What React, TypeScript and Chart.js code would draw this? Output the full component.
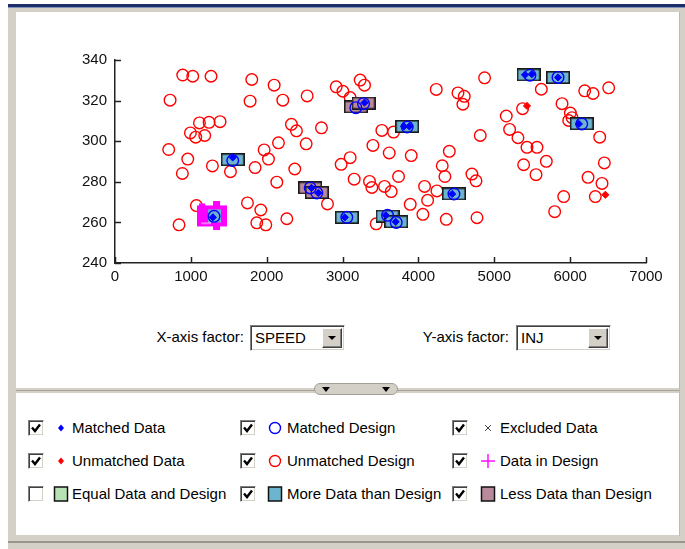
import React, { useEffect, useRef } from "react";
import { Chart, registerables } from "chart.js";
Chart.register(...registerables);

const FONT = '"Liberation Sans", Arial, Helvetica, sans-serif';

const xTickValues = [0, 1000, 2000, 3000, 4000, 5000, 6000, 7000];
const yTickValues = [240, 260, 280, 300, 320, 340];

// Unmatched design points (red circles)
const unmatchedDesign: [number, number][] = [
  [893, 332.6], [1025, 332], [1266, 332], [726, 320.2], [1803, 330.4], [1781, 319.7],
  [2098, 327.6], [2212, 320.2], [2533, 322.3], [2916, 326.8], [3004, 324.6], [3100, 321.5],
  [994, 304.1], [1113, 309], [1064, 302], [1183, 302.8], [1240, 309.3], [1385, 309.6],
  [708, 295.9], [959, 291.2], [888, 284.1], [1284, 287.8], [1522, 285], [1966, 295.7],
  [2023, 291.2], [2155, 299.2], [2326, 308.3], [2392, 305.1], [2722, 306.6], [2520, 298.7],
  [1847, 287], [2370, 286.3], [2133, 279.8], [2981, 288.6], [3100, 291.9], [3153, 281.3],
  [1073, 268.3], [844, 258.8], [1746, 269.6], [1922, 266.1], [1869, 259.8], [1988, 258.8],
  [2265, 261.8], [2801, 269.1],
  [3232, 330.1], [3289, 327.6], [4235, 325.5], [4521, 323.8], [4604, 322.1], [4586, 318.2],
  [4872, 331.2], [3518, 305.3], [3672, 304.5], [3400, 297.9], [3615, 294.2], [3905, 292.9],
  [3355, 280.2], [3386, 277.2], [3553, 277.7], [3641, 275.2], [3738, 282.6], [4407, 295],
  [4314, 287.9], [4349, 282.6], [4081, 277.7], [4244, 275.5], [4121, 270.9], [3892, 268.9],
  [4059, 264], [4367, 261.5], [4772, 262.3], [3443, 259.3], [4705, 283.8], [4759, 280.5],
  [4815, 302.8], [5620, 325.6], [5373, 316], [5158, 312.4], [5202, 305.8], [5312, 301.7],
  [5431, 297], [5563, 297], [5686, 290.1], [5387, 288.4], [5550, 283.5], [5893, 318.5],
  [6003, 313.9], [6025, 311.6], [5981, 310.2], [6192, 324.8], [6302, 323.5], [6508, 326.3],
  [6390, 302], [6451, 289.3], [6236, 282.2], [6420, 279.2], [6332, 272.7], [5915, 272.7],
  [5796, 265.3],
];

// Cells with more data than design (cyan boxes)
const moreDataCells: [number, number][] = [
  [1552, 290.9], [3056, 262.5], [3593, 263.1], [3707, 260.3], [3852, 307.3],
  [4468, 274], [5453, 332.7], [5840, 331.4], [6153, 308.6],
];

// Cells with less data than design (mauve boxes)
const lessDataCells: [number, number][] = [
  [2573, 277], [2661, 274.7], [3175, 316.9], [3276, 318.8],
];

// Matched design points (blue circles)
const matchedDesign: [number, number][] = [
  [1552, 290.5], [3056, 262.5], [3593, 263.5], [3707, 260], [3852, 307], [4468, 274],
  [5470, 332.5], [5840, 331.4], [6153, 308.5], [2573, 277], [2661, 274.5],
  [3175, 316.5], [3276, 318.5], [1306, 263],
];

// Matched data points (blue diamonds)
const matchedData: [number, number][] = [
  [5405, 332.7], [5495, 333], [5840, 331.4], [6115, 308.5], [3810, 307.3], [3880, 307.3],
  [4445, 274], [3030, 262.5], [3570, 263.5], [3700, 260.3], [1552, 292], [2590, 277],
  [2680, 274.5], [3290, 319], [1290, 262.5],
];

// Unmatched data points (red diamonds)
const unmatchedData: [number, number][] = [
  [5431, 317.4], [6464, 273.6],
];

// Data in design (magenta)
const dataInDesign: [number, number][] = [
  [1279, 263.2],
];

const xFactors = ["SPEED"];
const yFactors = ["INJ"];

const legendRows: { label: string; checked: boolean; marker: string }[][] = [
  [
    { label: "Matched Data", checked: true, marker: "blueDiamond" },
    { label: "Matched Design", checked: true, marker: "blueCircle" },
    { label: "Excluded Data", checked: true, marker: "cross" },
  ],
  [
    { label: "Unmatched Data", checked: true, marker: "redDiamond" },
    { label: "Unmatched Design", checked: true, marker: "redCircle" },
    { label: "Data in Design", checked: true, marker: "plus" },
  ],
  [
    { label: "Equal Data and Design", checked: false, marker: "green" },
    { label: "More Data than Design", checked: true, marker: "cyan" },
    { label: "Less Data than Design", checked: true, marker: "mauve" },
  ],
];

const CYAN = "#6db5cf";
const MAUVE = "#b88a9c";
const GREEN = "#b9e2b4";
const GRAY = "#d4d0c8";

function toPts(a: [number, number][]) {
  return a.map(([x, y]) => ({ x, y }));
}

function boxCanvas(fill: string, w = 24, h = 13) {
  const c = document.createElement("canvas");
  c.width = w;
  c.height = h;
  const g = c.getContext("2d")!;
  g.fillStyle = fill;
  g.fillRect(0, 0, w, h);
  g.strokeStyle = "#1a1a1a";
  g.lineWidth = 1.6;
  g.strokeRect(0.8, 0.8, w - 1.6, h - 1.6);
  return c;
}

function magentaCanvas() {
  const c = document.createElement("canvas");
  c.width = 30;
  c.height = 29;
  const g = c.getContext("2d")!;
  g.fillStyle = "#ff00ff";
  g.fillRect(0, 4, 30, 21);
  g.fillRect(16, 0, 7, 5);
  g.fillRect(16, 24, 7, 5);
  g.fillRect(2, 2, 6, 3);
  g.fillStyle = "#ff9cff";
  g.fillRect(4, 21, 10, 1.5);
  g.fillStyle = CYAN;
  g.fillRect(11, 8, 13, 13);
  return c;
}

const inTicks = {
  id: "inTicks",
  afterDatasetsDraw(chart: any) {
    const { ctx, chartArea } = chart;
    const xs = chart.scales.x;
    const ys = chart.scales.y;
    ctx.save();
    ctx.strokeStyle = "#222";
    ctx.lineWidth = 1.5;
    xs.ticks.forEach((t: any) => {
      const p = Math.round(xs.getPixelForValue(t.value)) + 0.5;
      ctx.beginPath();
      ctx.moveTo(p, chartArea.bottom);
      ctx.lineTo(p, chartArea.bottom - 6);
      ctx.stroke();
    });
    ys.ticks.forEach((t: any) => {
      const p = Math.round(ys.getPixelForValue(t.value)) + 0.5;
      ctx.beginPath();
      ctx.moveTo(chartArea.left, p);
      ctx.lineTo(chartArea.left + 6, p);
      ctx.stroke();
    });
    ctx.restore();
  },
};

function Plot() {
  const ref = useRef<HTMLCanvasElement>(null);
  useEffect(() => {
    const cyanBox = boxCanvas(CYAN);
    const mauveBox = boxCanvas(MAUVE);
    const mag = magentaCanvas();
    const base = { showLine: false, borderWidth: 1.4 };
    const chart = new Chart(ref.current!, {
      type: "scatter",
      data: {
        datasets: [
          {
            ...base, label: "Matched Data", data: toPts(matchedData), pointStyle: "rectRot",
            pointRadius: 3.6, backgroundColor: "#0000ff", borderColor: "#0000ff", borderWidth: 1,
          },
          {
            ...base, label: "Unmatched Data", data: toPts(unmatchedData), pointStyle: "rectRot",
            pointRadius: 3.6, backgroundColor: "#ff0000", borderColor: "#ff0000", borderWidth: 1,
          },
          {
            ...base, label: "Matched Design", data: toPts(matchedDesign), pointStyle: "circle",
            pointRadius: 5.8, backgroundColor: "rgba(0,0,0,0)", borderColor: "#0000ff",
          },
          {
            ...base, label: "Data in Design", data: toPts(dataInDesign), pointStyle: mag as any,
            pointRadius: 3,
          },
          {
            ...base, label: "More Data than Design", data: toPts(moreDataCells), pointStyle: cyanBox as any,
            pointRadius: 3,
          },
          {
            ...base, label: "Less Data than Design", data: toPts(lessDataCells), pointStyle: mauveBox as any,
            pointRadius: 3,
          },
          {
            ...base, label: "Unmatched Design", data: toPts(unmatchedDesign), pointStyle: "circle",
            pointRadius: 5.8, backgroundColor: "rgba(0,0,0,0)", borderColor: "#ff0000",
          },
        ],
      },
      options: {
        animation: false,
        responsive: false,
        events: [],
        layout: { padding: { left: 0, top: 60, right: 39, bottom: 0 } },
        plugins: { legend: { display: false }, tooltip: { enabled: false } },
        scales: {
          x: {
            type: "linear",
            min: xTickValues[0],
            max: xTickValues[xTickValues.length - 1],
            afterFit: (s: any) => { s.height = 57; },
            afterBuildTicks: (s: any) => { s.ticks = xTickValues.map((v) => ({ value: v })); },
            grid: { display: false, drawTicks: false },
            border: { display: true, color: "#222", width: 1.5 },
            ticks: {
              color: "#111", font: { family: FONT, size: 15 }, padding: 5, maxRotation: 0, autoSkip: false,
              callback: (v: any) => String(v),
            },
          },
          y: {
            type: "linear",
            min: yTickValues[0],
            max: yTickValues[yTickValues.length - 1],
            afterFit: (s: any) => { s.width = 115; },
            afterBuildTicks: (s: any) => { s.ticks = yTickValues.map((v) => ({ value: v })); },
            grid: { display: false, drawTicks: false },
            border: { display: true, color: "#222", width: 1.5 },
            ticks: { color: "#111", font: { family: FONT, size: 15 }, padding: 8, callback: (v: any) => String(v) },
          },
        },
      },
      plugins: [inTicks],
    });
    return () => chart.destroy();
  }, []);
  return (
    <canvas
      ref={ref}
      width={685}
      height={320}
      style={{ position: "absolute", left: 0, top: 0, width: 685, height: 320 }}
    />
  );
}

function Dropdown({ left, top, value }: { left: number; top: number; value: string }) {
  return (
    <div
      style={{
        position: "absolute", left, top, width: 95, height: 26, boxSizing: "border-box",
        borderTop: "1px solid #808080", borderLeft: "1px solid #808080",
        borderRight: "1px solid #fff", borderBottom: "1px solid #fff",
        boxShadow: "inset 1px 1px #404040, inset -1px -1px " + GRAY, background: "#fff",
      }}
    >
      <span style={{ position: "absolute", left: 4, top: 4, fontSize: 15, lineHeight: "16px", color: "#000" }}>
        {value}
      </span>
      <div
        style={{
          position: "absolute", right: 2, top: 2, width: 20, height: 20, boxSizing: "border-box",
          background: GRAY, borderTop: "1px solid #fff", borderLeft: "1px solid #fff",
          borderRight: "1px solid #404040", borderBottom: "1px solid #404040",
          boxShadow: "inset -1px -1px #808080",
        }}
      >
        <div
          style={{
            position: "absolute", left: 5, top: 7, width: 0, height: 0,
            borderLeft: "4px solid transparent", borderRight: "4px solid transparent",
            borderTop: "4px solid #000",
          }}
        />
      </div>
    </div>
  );
}

function CheckBox({ left, top, checked }: { left: number; top: number; checked: boolean }) {
  return (
    <div
      style={{
        position: "absolute", left, top, width: 16, height: 16, boxSizing: "border-box",
        borderTop: "1px solid #808080", borderLeft: "1px solid #808080",
        borderRight: "1px solid #fff", borderBottom: "1px solid #fff",
        boxShadow: "inset 1px 1px #404040, inset -1px -1px " + GRAY, background: "#fff",
      }}
    >
      {checked && (
        <svg width={14} height={14} style={{ position: "absolute", left: 0, top: 0 }}>
          <polyline points="3,6.5 6,10 11,3.5" fill="none" stroke="#000" strokeWidth={2.4} />
        </svg>
      )}
    </div>
  );
}

function Marker({ kind, cx, cy }: { kind: string; cx: number; cy: number }) {
  const s = 18;
  const l = cx - s / 2;
  const t = cy - s / 2;
  const m = s / 2;
  let inner: any = null;
  if (kind === "blueDiamond" || kind === "redDiamond") {
    const c = kind === "blueDiamond" ? "#0000ff" : "#ff0000";
    inner = <polygon points={`${m},${m - 3.5} ${m + 3},${m} ${m},${m + 3.5} ${m - 3},${m}`} fill={c} />;
  } else if (kind === "blueCircle" || kind === "redCircle") {
    const c = kind === "blueCircle" ? "#0000ff" : "#ff0000";
    inner = <circle cx={m} cy={m} r={5.5} fill="none" stroke={c} strokeWidth={1.4} />;
  } else if (kind === "cross") {
    inner = (
      <g stroke="#444" strokeWidth={1}>
        <line x1={m - 3} y1={m - 3} x2={m + 3} y2={m + 3} />
        <line x1={m + 3} y1={m - 3} x2={m - 3} y2={m + 3} />
      </g>
    );
  } else if (kind === "plus") {
    inner = (
      <g stroke="#ff00ff" strokeWidth={1.4}>
        <line x1={m - 7} y1={m} x2={m + 7} y2={m} />
        <line x1={m} y1={m - 7} x2={m} y2={m + 7} />
      </g>
    );
  } else {
    const f = kind === "green" ? GREEN : kind === "cyan" ? CYAN : MAUVE;
    inner = <rect x={m - 6.5} y={m - 7} width={13} height={14} fill={f} stroke="#111" strokeWidth={1.5} />;
  }
  return (
    <svg width={s} height={s} style={{ position: "absolute", left: l, top: t }}>
      {inner}
    </svg>
  );
}

export default function App() {
  const rowY = [428, 461, 494];
  const colBox = [28, 240, 452];
  const colMark = [61, 275, 488];
  const colText = [72, 287, 500];
  return (
    <div
      style={{
        position: "absolute", left: 0, top: 0, width: 685, height: 549, overflow: "hidden",
        background: "#fff", fontFamily: FONT, color: "#000",
      }}
    >
      <div style={{ position: "absolute", left: 8, top: 0, width: 677, height: 549, background: GRAY }} />
      <div style={{ position: "absolute", left: 8, top: 4, width: 677, height: 3, background: "#1c2f6b" }} />
      <div style={{ position: "absolute", left: 8, top: 7, width: 677, height: 1, background: "#8090b8" }} />
      <div style={{ position: "absolute", left: 8, top: 0, width: 677, height: 4, background: "#fff" }} />
      {/* upper white panel */}
      <div style={{ position: "absolute", left: 16, top: 12, width: 663, height: 376, background: "#fff" }} />
      {/* divider */}
      <div style={{ position: "absolute", left: 16, top: 390, width: 663, height: 1, background: "#a8a49c" }} />
      {/* lower white panel */}
      <div style={{ position: "absolute", left: 16, top: 393, width: 663, height: 142, background: "#fff" }} />
      <div style={{ position: "absolute", left: 8, top: 541, width: 677, height: 2, background: "#9a968e" }} />
      <div style={{ position: "absolute", left: 679, top: 12, width: 1, height: 524, background: "#bfbbb3" }} />

      {/* splitter handle */}
      <div
        style={{
          position: "absolute", left: 314, top: 383, width: 84, height: 12, boxSizing: "border-box",
          background: GRAY, border: "1px solid #a4a098", borderRadius: 6,
        }}
      >
        <div style={{ position: "absolute", left: 7, top: 3, width: 0, height: 0, borderLeft: "4px solid transparent", borderRight: "4px solid transparent", borderTop: "5px solid #000" }} />
        <div style={{ position: "absolute", left: 67, top: 3, width: 0, height: 0, borderLeft: "4px solid transparent", borderRight: "4px solid transparent", borderTop: "5px solid #000" }} />
        <div
          style={{
            position: "absolute", left: 20, top: 2, width: 42, height: 6,
            backgroundImage: "radial-gradient(circle, #9a968e 0.5px, transparent 0.6px)", backgroundSize: "2px 2px",
            opacity: 0.8,
          }}
        />
      </div>

      <Plot />

      {/* axis factor selectors */}
      <span style={{ position: "absolute", right: 685 - 244, top: 329, fontSize: 15, lineHeight: "16px" }}>X-axis factor:</span>
      <Dropdown left={250} top={325} value={xFactors[0]} />
      <span style={{ position: "absolute", right: 685 - 509, top: 329, fontSize: 15, lineHeight: "16px" }}>Y-axis factor:</span>
      <Dropdown left={516} top={325} value={yFactors[0]} />

      {/* legend */}
      {legendRows.map((row, r) =>
        row.map((it, c) => (
          <React.Fragment key={`${r}-${c}`}>
            <CheckBox left={colBox[c]} top={rowY[r] - 8} checked={it.checked} />
            <Marker kind={it.marker} cx={colMark[c]} cy={rowY[r]} />
            <span
              style={{
                position: "absolute", left: colText[c], top: rowY[r] - 9, fontSize: 15,
                lineHeight: "17px", whiteSpace: "nowrap",
              }}
            >
              {it.label}
            </span>
          </React.Fragment>
        ))
      )}
    </div>
  );
}
